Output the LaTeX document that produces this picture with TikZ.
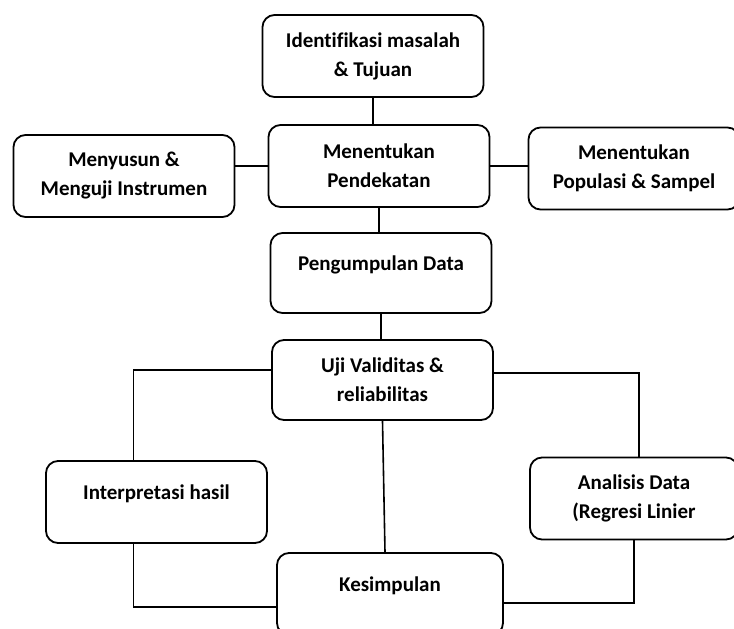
\documentclass[tikz,border=0pt]{standalone}
\usepackage{fontspec}
\setmainfont{Carlito}[Ligatures=NoCommon]
\usetikzlibrary{calc}

\begin{document}
\begin{tikzpicture}[x=1pt, y=-1pt]
    \tikzstyle{box_style} = [draw, line width=1.8pt, rounded corners=12pt, align=center,
        minimum width=221pt, minimum height=82pt, inner sep=0pt,
        font=\fontsize{21}{29}\selectfont\bfseries]
    \tikzstyle{up_text} = [text height=15pt, text depth=21pt]
    \tikzstyle{link_style} = [line width=1.6pt, black]

    \useasboundingbox (0,0) rectangle (734,629);

    \node[box_style] (identifikasi) at (373,56) {Identifikasi masalah\\\& Tujuan};
    \node[box_style] (pendekatan) at (379,166) {Menentukan\\Pendekatan};
    \node[box_style] (menyusun) at (124,176) {Menyusun \&\\Menguji Instrumen};
    \node[box_style, minimum width=211pt] (populasi) at (634,168.5) {Menentukan\\Populasi \& Sampel};
    \node[box_style, minimum height=80pt, up_text] (pengumpulan) at (381,273) {Pengumpulan Data};
    \node[box_style, minimum height=80pt] (uji) at (382.5,380) {Uji Validitas \&\\reliabilitas};
    \node[box_style, up_text] (interpretasi) at (156.5,502) {Interpretasi hasil};
    \node[box_style, minimum width=208pt] (analisis) at (634,498.5) {Analisis Data\\(Regresi Linier};
    \node[box_style, minimum width=226pt, up_text] (kesimpulan) at (390,594) {Kesimpulan};

    % garis penghubung
    \draw[link_style] (identifikasi.south) -- (identifikasi.south |- pendekatan.north);
    \draw[link_style] (pendekatan.west) -- (pendekatan.west -| menyusun.east);
    \draw[link_style] (pendekatan.east) -- (pendekatan.east -| populasi.west);
    \draw[link_style] (pendekatan.south) -- (pendekatan.south |- pengumpulan.north);
    \draw[link_style] (pengumpulan.south) -- (pengumpulan.south |- uji.north);
    \draw[link_style] (uji.south) -- ([xshift=-5pt]kesimpulan.north);
    \draw[link_style] ([yshift=10pt]uji.west) -| ([xshift=-23pt]interpretasi.north);
    \draw[link_style] ([yshift=7pt]uji.east) -| ([xshift=5pt]analisis.north);
    \draw[link_style] ([xshift=-23pt]interpretasi.south) |- ([yshift=-13pt]kesimpulan.west);
    \draw[link_style] (analisis.south) |- ([yshift=-9pt]kesimpulan.east);
\end{tikzpicture}
\end{document}
